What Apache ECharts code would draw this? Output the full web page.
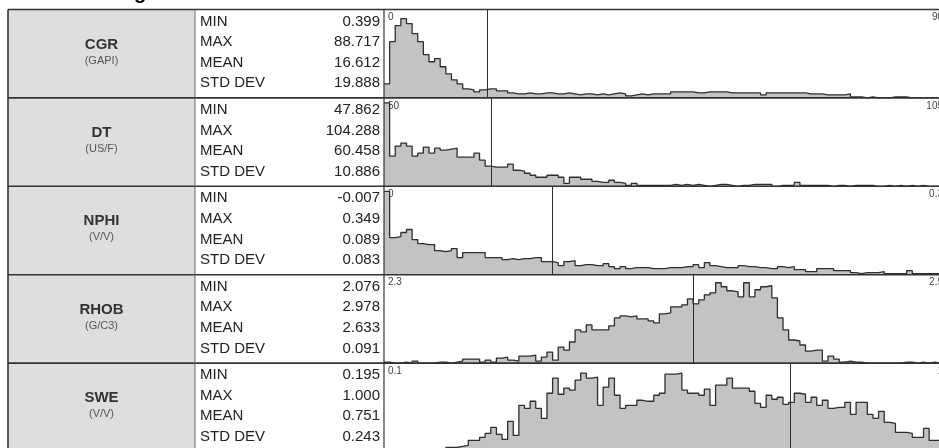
<!DOCTYPE html>
<html>
<head>
<meta charset="utf-8">
<script src="https://cdn.jsdelivr.net/npm/echarts@6/dist/echarts.min.js"></script>
<style>
  html, body { margin: 0; padding: 0; background: #ffffff; }
  #chart { width: 939px; height: 448px; }
</style>
</head>
<body>
<div id="chart"></div>
<script>
// Curve names, units and summary statistics
const logNames = ['CGR', 'DT', 'NPHI', 'RHOB', 'SWE'];
const logUnits = ['(GAPI)', '(US/F)', '(V/V)', '(G/C3)', '(V/V)'];
const statLabels = ['MIN', 'MAX', 'MEAN', 'STD DEV'];
const statMin  = [0.399, 47.862, -0.007, 2.076, 0.195];
const statMax  = [88.717, 104.288, 0.349, 2.978, 1.000];
const statMean = [16.612, 60.458, 0.089, 2.633, 0.751];
const statStd  = [19.888, 10.886, 0.083, 0.091, 0.243];

// Histogram scale range per curve (100 equal bins across each range)
const axisMin = [0, 50, 0, 2.3, 0.1];
const axisMax = [90, 105, 0.3, 2.9, 1];

// Bin frequencies
const cgrCounts = [14,56,72,79,74,64,56,43,36,39,31,24,18,14,9,8,6,8,9,9,
  7,7,5,4,4,5,4,4,5,5,4,4,5,4,3,4,4,3,4,3,
  4,5,4,2,3,4,3,4,4,4,4,6,6,6,6,5,5,6,6,6,
  6,5,5,5,5,5,5,3,5,5,5,5,5,5,5,4,4,4,3,3,
  3,3,4,1,1,0,1,0,0,0,1,1,1,0,0,0,0,0,0,0];
const dtCounts = [83,30,40,43,40,30,33,39,33,38,36,37,38,29,29,29,33,26,20,19,
  19,19,22,16,15,13,11,9,9,11,11,9,3,9,9,7,7,5,4,4,
  6,4,3,1,3,1,1,1,1,1,1,2,1,2,1,2,1,0,1,2,
  2,1,0,1,1,2,2,2,2,0,1,1,1,4,1,1,1,1,1,0,
  1,1,0,1,1,1,1,0,0,1,0,1,0,1,0,1,0,0,0,0];
const nphiCounts = [83,37,38,42,45,35,31,30,30,24,23,24,26,17,22,22,22,22,17,17,
  17,15,16,15,16,16,17,17,13,13,12,9,13,14,9,10,10,9,9,11,
  8,6,8,6,7,7,7,6,6,6,7,7,7,8,8,10,7,12,9,8,
  7,7,7,9,8,8,7,7,6,6,8,7,8,5,5,3,3,6,6,6,
  4,4,4,2,1,2,2,2,3,1,1,1,1,4,1,1,1,1,1,1];
const rhobCounts = [1,0,0,1,0,2,0,0,0,1,1,0,1,2,4,4,4,1,3,1,
  5,6,3,2,7,7,8,2,6,11,3,16,13,21,33,31,38,33,33,33,
  37,45,47,46,47,44,44,42,40,49,50,56,56,58,64,59,63,68,70,80,
  76,72,71,66,80,66,73,76,77,65,45,33,23,22,18,12,13,13,2,7,
  4,1,2,1,1,0,0,0,0,0,0,0,1,1,0,1,0,1,0,1];
const sweCounts = [0,0,0,0,0,0,0,0,0,0,0,4,4,5,6,11,11,14,18,24,
  17,12,30,16,46,43,50,43,33,58,73,57,63,61,71,78,73,74,46,64,
  73,56,43,46,46,51,50,50,56,58,77,77,78,61,58,58,56,62,46,66,
  66,73,63,63,63,60,48,44,56,52,54,47,49,58,57,49,54,46,51,43,
  44,44,49,37,49,49,37,33,40,29,28,19,19,18,14,14,23,11,11,9];
const allCounts = [cgrCounts, dtCounts, nphiCounts, rhobCounts, sweCounts];
const freqMax = 88;

// Layout
const tableLeft = 8, nameRight = 195, statRight = 384;
const rowTop0 = 9.5, rowH = 88.4;
const plotWidth = 562;
const textFont = '"Liberation Sans", Arial, sans-serif';

const chart = echarts.init(document.getElementById('chart'), null, { renderer: 'canvas' });

// Step outline points: one point per bin start, closing at the range end
function stepPoints(counts, lo, hi) {
  const w = (hi - lo) / counts.length;
  const pts = counts.map((c, i) => [lo + i * w, c]);
  pts.push([hi, counts[counts.length - 1]]);
  return pts;
}

const grids = [], xAxes = [], yAxes = [], series = [], graphics = [];

logNames.forEach((name, i) => {
  const top = rowTop0 + i * rowH;
  grids.push({ left: statRight, top: top, width: plotWidth, height: rowH, outerBoundsMode: 'none', containLabel: false });
  xAxes.push({
    gridIndex: i, type: 'value', min: axisMin[i], max: axisMax[i], position: 'top',
    axisLine: { show: false }, axisTick: { show: false }, splitLine: { show: false },
    axisLabel: {
      inside: true, customValues: [axisMin[i], axisMax[i]],
      alignMinLabel: 'left', alignMaxLabel: 'right',
      margin: 3, padding: [0, 3, 0, 4],
      fontSize: 10, color: '#444', fontFamily: textFont
    }
  });
  yAxes.push({
    gridIndex: i, type: 'value', min: 0, max: freqMax,
    axisLine: { show: false }, axisTick: { show: false },
    axisLabel: { show: false }, splitLine: { show: false }
  });
  series.push({
    type: 'line', xAxisIndex: i, yAxisIndex: i, step: 'end',
    data: stepPoints(allCounts[i], axisMin[i], axisMax[i]),
    symbol: 'none', clip: true,
    lineStyle: { color: '#2e2e2e', width: 1.3 },
    areaStyle: { color: '#c3c3c3', opacity: 1 },
    markLine: {
      silent: true, symbol: ['none', 'none'], label: { show: false },
      lineStyle: { color: '#2e2e2e', width: 1, type: 'solid' },
      data: [{ xAxis: statMean[i] }]
    }
  });

  // Name cell
  graphics.push({
    type: 'rect', z: 1,
    shape: { x: tableLeft, y: top, width: nameRight - tableLeft, height: rowH },
    style: { fill: '#dedede' }
  });
  graphics.push({
    type: 'text', z: 20, x: (tableLeft + nameRight) / 2, y: top + 35,
    style: { text: name, fill: '#333', font: 'bold 15px ' + textFont, align: 'center', verticalAlign: 'middle' }
  });
  graphics.push({
    type: 'text', z: 20, x: (tableLeft + nameRight) / 2, y: top + 51,
    style: { text: logUnits[i], fill: '#555', font: '11px ' + textFont, align: 'center', verticalAlign: 'middle' }
  });

  // Statistics cell
  const vals = [statMin[i], statMax[i], statMean[i], statStd[i]];
  statLabels.forEach((lab, j) => {
    const cy = top + 12 + j * 20.6;
    graphics.push({
      type: 'text', z: 20, x: nameRight + 5, y: cy,
      style: { text: lab, fill: '#222', font: '15px ' + textFont, align: 'left', verticalAlign: 'middle' }
    });
    graphics.push({
      type: 'text', z: 20, x: statRight - 4, y: cy,
      style: { text: vals[j].toFixed(3), fill: '#222', font: '15px ' + textFont, align: 'right', verticalAlign: 'middle' }
    });
  });

  // Row border
  graphics.push({
    type: 'line', z: 30,
    shape: { x1: tableLeft, y1: top, x2: 939, y2: top },
    style: { stroke: '#333', lineWidth: 1.6 }
  });
});

// Column borders
graphics.push({ type: 'line', z: 30, shape: { x1: tableLeft, y1: rowTop0, x2: tableLeft, y2: 448 }, style: { stroke: '#333', lineWidth: 1.6 } });
graphics.push({ type: 'line', z: 30, shape: { x1: nameRight, y1: rowTop0, x2: nameRight, y2: 448 }, style: { stroke: '#666', lineWidth: 1 } });
graphics.push({ type: 'line', z: 30, shape: { x1: statRight, y1: rowTop0, x2: statRight, y2: 448 }, style: { stroke: '#333', lineWidth: 1.2 } });

// Heading
graphics.push({
  type: 'text', z: 20, x: 84, y: 3,
  style: { text: 'Histograms', fill: '#000', font: 'bold 20px ' + textFont, align: 'left', verticalAlign: 'bottom' }
});

chart.setOption({
  animation: false,
  backgroundColor: '#ffffff',
  grid: grids,
  xAxis: xAxes,
  yAxis: yAxes,
  series: series,
  graphic: { elements: graphics }
});
</script>
</body>
</html>
